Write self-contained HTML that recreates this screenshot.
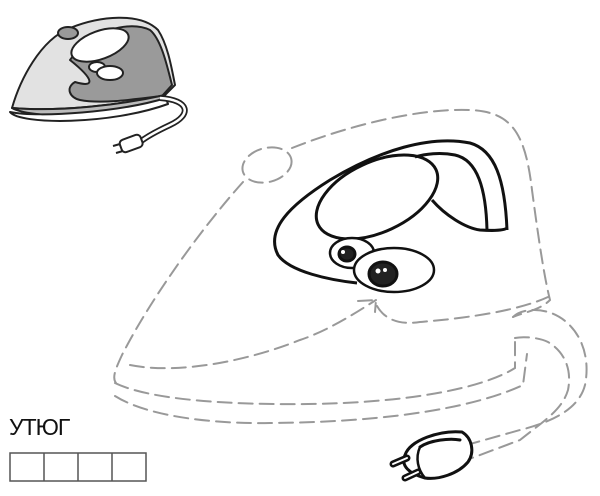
<!DOCTYPE html>
<html><head><meta charset="utf-8"><style>
body{margin:0;background:#fff;width:600px;height:496px;overflow:hidden;position:relative;font-family:"Liberation Sans","Noto Sans CJK SC",sans-serif}
.t{position:absolute;left:9px;top:414px;font-size:23px;color:#111;letter-spacing:-1px}
</style></head><body>
<svg width="600" height="496" viewBox="0 0 600 496" style="position:absolute;left:0;top:0">
<!-- small iron -->
<g stroke="#222" stroke-width="2" stroke-linejoin="round">
<path d="M12 108 C20 80 40 40 70 28 C100 16 140 12 158 30 C168 45 172 70 175 85 L165 95 C120 105 60 112 12 108 Z" fill="#e2e2e2"/>
<path d="M70 60 C90 30 130 20 150 30 C162 40 168 70 172 85 L162 96 C130 100 100 104 80 100 C70 98 65 88 75 82 C95 88 95 80 70 60 Z" fill="#9a9a9a"/>
<ellipse cx="100" cy="45" rx="30" ry="14" transform="rotate(-20 100 45)" fill="#fff"/>
<path d="M12 108 C30 118 100 120 165 100 L165 95 C120 105 60 112 12 108 Z" fill="#bbb"/>
<path d="M10 112 C20 125 110 125 168 104 L166 98 C120 112 40 118 10 112 Z" fill="#fff"/>
<ellipse cx="68" cy="33" rx="10" ry="6" fill="#999"/>
<ellipse cx="97" cy="67" rx="8" ry="5" fill="#fff"/>
<ellipse cx="110" cy="73" rx="13" ry="7" fill="#fff"/>
<path d="M160 98 C190 100 192 115 170 125 C155 132 145 138 140 142" fill="none" stroke-width="6"/>
<path d="M160 98 C190 100 192 115 170 125 C155 132 145 138 140 142" fill="none" stroke="#fff" stroke-width="2.5"/>
<rect x="120" y="137" width="22" height="13" rx="4" transform="rotate(-20 131 143)" fill="#fff"/>
<path d="M120 144 l-7 2 M123 151 l-7 2" stroke-width="2"/>
</g>
<!-- dashed outline -->
<g fill="none" stroke="#999" stroke-width="2" stroke-dasharray="14 7" stroke-linecap="round">
<ellipse cx="267" cy="165" rx="25" ry="17" transform="rotate(-15 267 165)"/>
<path d="M292 148 C350 125 420 108 470 110 C510 112 525 130 532 190 C540 250 545 280 550 300 C540 310 525 312 513 317"/>
<path d="M243 182 C200 230 150 300 122 355 C115 370 112 378 116 383"/>
<path d="M130 365 C180 375 250 360 300 340 C330 330 360 310 376 300"/>
<path d="M358 301 L376 300 L375 312"/>
<path d="M377 306 C385 320 400 325 420 322 C470 318 520 310 548 297"/>
<path d="M115 383 C150 400 230 405 308 404 C400 403 480 390 515 368 L515 342"/>
<path d="M115 396 C150 418 220 424 270 423 C400 422 480 405 523 385 L527 354"/>
<path d="M513 317 C520 310 535 308 548 312 C575 320 592 350 585 385 C580 405 560 420 520 430 L470 444"/>
<path d="M515 338 C525 336 540 338 548 342 C565 352 572 370 568 390 C562 410 545 420 520 440 L472 458"/>
</g>
<!-- face -->
<g stroke="#111" stroke-width="3" fill="none" stroke-linejoin="round">
<path d="M507 230 C505 180 495 150 470 143 C430 135 380 150 330 180 C290 205 265 230 278 255 C290 272 330 280 357 283"/>
<path d="M487 230 C486 190 478 160 455 155 C440 152 425 154 415 157"/>
<ellipse cx="377" cy="197" rx="65" ry="35" transform="rotate(-25 377 197)"/>
<path d="M432 200 C445 215 465 228 480 230 C495 231 505 230 507 228"/>
<ellipse cx="352" cy="253" rx="22" ry="15" fill="#fff" stroke-width="2.5"/>
<ellipse cx="394" cy="270" rx="40" ry="22" fill="#fff" stroke-width="2.5"/>
<ellipse cx="347" cy="254" rx="8" ry="7" fill="#222"/>
<ellipse cx="383" cy="274" rx="14" ry="12" fill="#222"/>
</g>
<circle cx="343" cy="252" r="2" fill="#fff"/><circle cx="378" cy="271" r="2.5" fill="#fff"/><circle cx="385" cy="270" r="2" fill="#fff"/>
<!-- plug -->
<g stroke="#111" stroke-width="3" fill="#fff" stroke-linejoin="round" stroke-linecap="round">
<path d="M405 455 C410 440 440 430 462 432 C472 438 475 452 468 462 C458 474 438 480 425 478 C410 474 400 466 405 455 Z"/>
<path d="M420 447 C430 440 450 438 460 440"/>
<path d="M420 447 C415 458 418 470 425 478" stroke-width="2.5"/>
<line x1="407" y1="458" x2="393" y2="464" stroke-width="7"/>
<line x1="407" y1="458" x2="393" y2="464" stroke="#fff" stroke-width="2"/>
<line x1="418" y1="472" x2="405" y2="478" stroke-width="7"/>
<line x1="418" y1="472" x2="405" y2="478" stroke="#fff" stroke-width="2"/>
</g>
<!-- boxes -->
<g fill="none" stroke="#555" stroke-width="1.5">
<rect x="10" y="453" width="136" height="28"/>
<path d="M44 453v28M78 453v28M112 453v28"/>
</g>
</svg>
<div class="t">УТЮГ</div>
</body></html>
